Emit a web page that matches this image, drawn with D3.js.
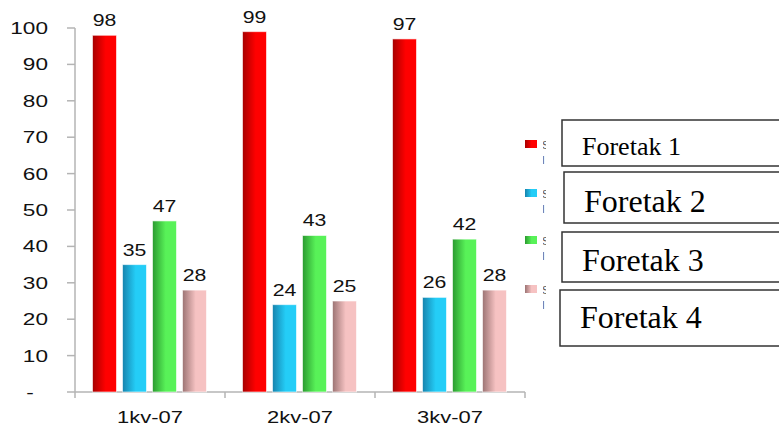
<!DOCTYPE html>
<html><head><meta charset="utf-8">
<script src="https://cdn.jsdelivr.net/npm/d3@7/dist/d3.min.js"></script>
<style>body{margin:0;background:#fff}svg{display:block}</style>
</head><body>
<script>
const categories = ["1kv-07", "2kv-07", "3kv-07"];
const seriesNames = ["Foretak 1", "Foretak 2", "Foretak 3", "Foretak 4"];
const foretak1 = [98, 99, 97];
const foretak2 = [35, 24, 26];
const foretak3 = [47, 43, 42];
const foretak4 = [28, 25, 28];
const yTicks = [0, 10, 20, 30, 40, 50, 60, 70, 80, 90, 100];
const yTickLabels = ["-", "10", "20", "30", "40", "50", "60", "70", "80", "90", "100"];

const seriesValues = [foretak1, foretak2, foretak3, foretak4];
const grads = [["#a60000", "#ff0000"], ["#1683ad", "#24cdf7"], ["#2b9a30", "#58f258"], ["#9c7474", "#f6c2c2"]];

const W = 779, H = 425;
const svg = d3.select("body").append("svg").attr("width", W).attr("height", H);
const defs = svg.append("defs");
grads.forEach((g, i) => {
  const lg = defs.append("linearGradient").attr("id", "g" + i).attr("x1", 0).attr("x2", 1).attr("y1", 0).attr("y2", 0);
  lg.append("stop").attr("offset", "0").attr("stop-color", g[0]);
  lg.append("stop").attr("offset", "0.55").attr("stop-color", g[1]);
  lg.append("stop").attr("offset", "1").attr("stop-color", g[1]);
});

const x0 = d3.scaleBand().domain(categories).range([75, 525]);
const x1 = d3.scaleBand().domain(d3.range(4)).range([14.5, 134.5]).paddingInner(0.2).paddingOuter(0.1);
const y = d3.scaleLinear().domain([0, 100]).range([392, 28]);

const sx = 1.33;
function stretched(g, x, yy, txt, size, anchor) {
  g.append("text").attr("transform", `translate(${x},${yy}) scale(${sx},1)`)
    .attr("text-anchor", anchor).attr("font-family", "Liberation Sans, Arial, sans-serif")
    .attr("font-size", size).attr("fill", "#111").text(txt);
}

// axes
const axisColor = "#b4b4b4";
svg.append("line").attr("x1", 75).attr("x2", 75).attr("y1", y(100)).attr("y2", y(0)).attr("stroke", axisColor).attr("stroke-width", 1.5);
svg.append("line").attr("x1", 75).attr("x2", 525).attr("y1", y(0)).attr("y2", y(0)).attr("stroke", axisColor).attr("stroke-width", 1.5);
const yl = svg.append("g");
yTicks.forEach((t, i) => {
  yl.append("line").attr("x1", 67).attr("x2", 75).attr("y1", y(t)).attr("y2", y(t)).attr("stroke", axisColor).attr("stroke-width", 1.5);
  if (t === 0) stretched(yl, 30, y(t) + 6, yTickLabels[i], 17, "middle");
  else stretched(yl, 48, y(t) + 6, yTickLabels[i], 17, "end");
});
const xEdges = categories.map(c => x0(c)).concat([x0(categories[categories.length - 1]) + x0.bandwidth()]);
xEdges.forEach(e => {
  svg.append("line").attr("x1", e).attr("x2", e).attr("y1", y(0)).attr("y2", y(0) + 6).attr("stroke", axisColor).attr("stroke-width", 1.5);
});
categories.forEach(c => stretched(svg, x0(c) + x0.bandwidth() / 2, 423, c, 16.5, "middle"));

// bars
seriesValues.forEach((vals, s) => {
  const g = svg.append("g");
  vals.forEach((v, i) => {
    const bx = x0(categories[i]) + x1(s);
    g.append("rect").attr("x", bx).attr("y", y(v)).attr("width", x1.bandwidth()).attr("height", y(0) - y(v))
      .attr("fill", `url(#g${s})`).attr("stroke", "rgba(255,255,255,0.6)").attr("stroke-width", 1);
    stretched(g, bx + x1.bandwidth() / 2, y(v) - 9, v, 16, "middle");
  });
});

// legend
const legY = [140, 189, 236, 285];
const clip = defs.append("clipPath").attr("id", "legclip");
clip.append("rect").attr("x", 543).attr("y", 120).attr("width", 3).attr("height", 240);
seriesNames.forEach((n, i) => {
  svg.append("rect").attr("x", 525).attr("y", legY[i]).attr("width", 12).attr("height", 8).attr("fill", `url(#g${i})`);
  const t = svg.append("text").attr("clip-path", "url(#legclip)").attr("font-family", "Liberation Sans, Arial, sans-serif")
    .attr("font-size", 11).attr("fill", "#555");
  t.append("tspan").attr("x", 542).attr("y", legY[i] + 9).text("S");
  t.append("tspan").attr("x", 542).attr("y", legY[i] + 24).text("l");
});

const boxes = [
  {x: 562, y: 120, h: 46, fs: 26, tx: 582, ty: 155},
  {x: 564, y: 172, h: 51, fs: 32, tx: 584, ty: 212},
  {x: 562, y: 232, h: 50, fs: 32, tx: 582, ty: 271},
  {x: 560, y: 290, h: 56, fs: 32, tx: 580, ty: 328}
];
boxes.forEach((b, i) => {
  svg.append("rect").attr("x", b.x).attr("y", b.y).attr("width", 300).attr("height", b.h)
    .attr("fill", "#fff").attr("stroke", "#333").attr("stroke-width", 1.5);
  svg.append("text").attr("x", b.tx).attr("y", b.ty).attr("font-family", "Liberation Serif, Times New Roman, serif")
    .attr("font-size", b.fs).attr("fill", "#000").text(seriesNames[i]);
});
</script>
</body></html>
